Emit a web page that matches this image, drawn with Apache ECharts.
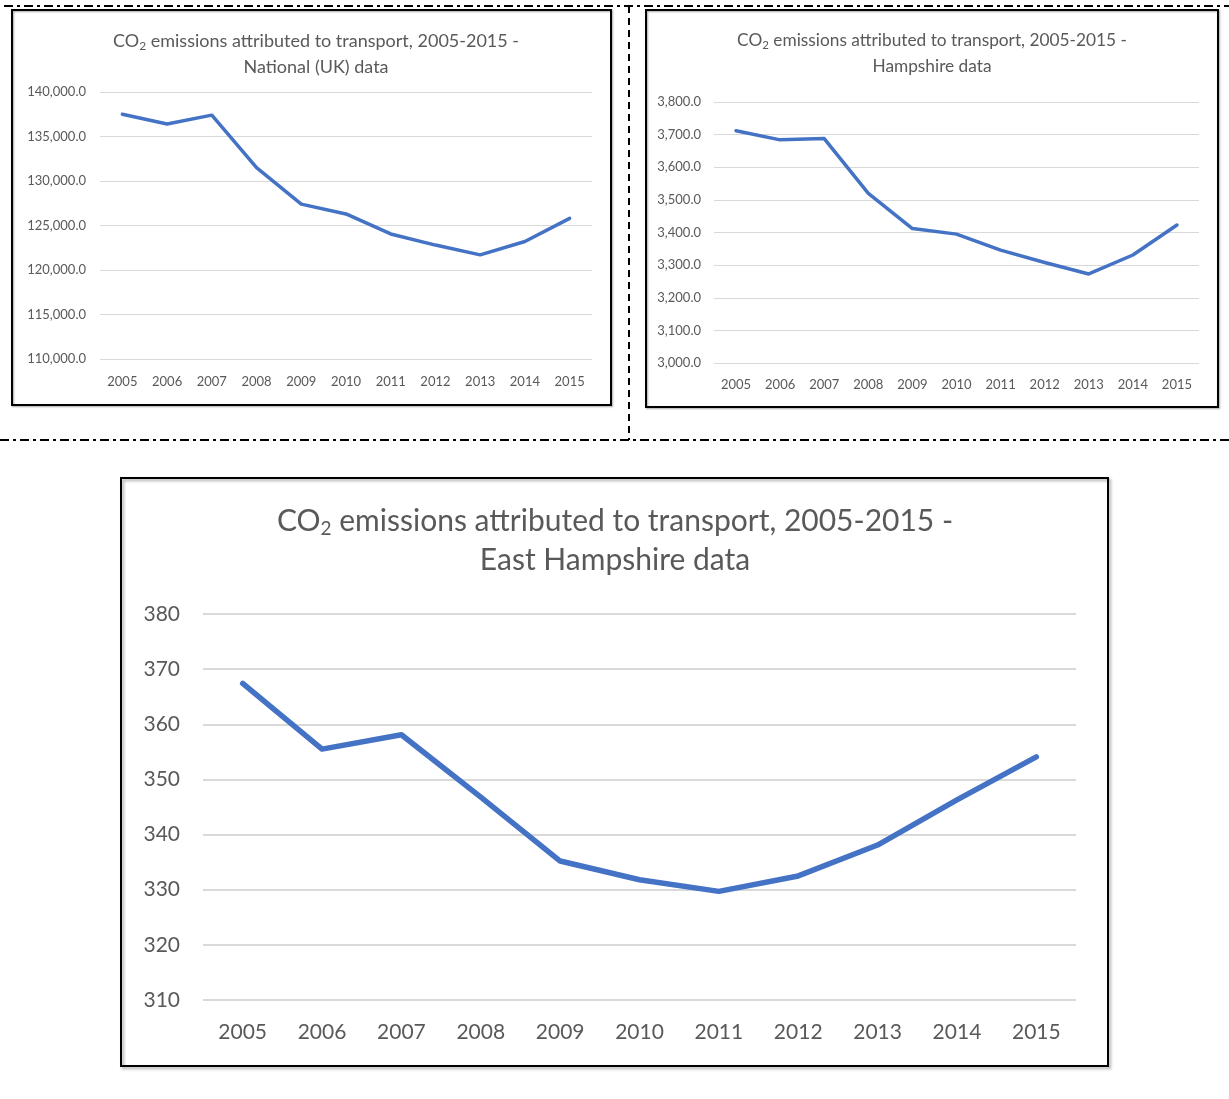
<!DOCTYPE html>
<html>
<head>
<meta charset="utf-8">
<script src="https://cdn.jsdelivr.net/npm/echarts@6/dist/echarts.min.js"></script>
<style>
  html, body { margin: 0; padding: 0; background: #fff; }
  #chart { width: 1229px; height: 1099px; }
</style>
</head>
<body>
<div id="chart"></div>
<script>
// ---- data ----
const years = ['2005', '2006', '2007', '2008', '2009', '2010', '2011', '2012', '2013', '2014', '2015'];
const ukValues = [137500, 136400, 137400, 131500, 127400, 126300, 124050, 122800, 121700, 123200, 125800];
const hampshireValues = [3712, 3684, 3688, 3520, 3412, 3395, 3346, 3308, 3273, 3331, 3423];
const eastHampshireValues = [367.4, 355.5, 358.1, 346.8, 335.2, 331.8, 329.7, 332.5, 338.1, 346.3, 354.1];

const titleLine1 = 'CO{sub|2} emissions attributed to transport, 2005-2015 -';
const titleUK = 'National (UK) data';
const titleHants = 'Hampshire data';
const titleEH = 'East Hampshire data';

// ---- styles ----
const FONT = 'Lato';
const GREY = '#595959';
const GRID = '#d9d9d9';
const BLUE = '#4472C4';

const fmt1 = v => v.toLocaleString('en-US', { minimumFractionDigits: 1, maximumFractionDigits: 1 });

function mkTitle(text, cx, top, size, lh, subSize, subPad) {
  return {
    text: text,
    left: cx, top: top, textAlign: 'center', padding: 0,
    textStyle: {
      fontFamily: FONT, fontWeight: 'normal', fontSize: size, color: GREY, lineHeight: lh,
      rich: { sub: { fontFamily: FONT, fontSize: subSize, color: GREY, padding: [subPad, 0, 0, 0] } }
    }
  };
}

function mkX(gridIndex, size, margin) {
  return {
    type: 'category', gridIndex: gridIndex, data: years, boundaryGap: true,
    axisLine: { show: false }, axisTick: { show: false },
    axisLabel: { fontFamily: FONT, fontSize: size, color: GREY, margin: margin }
  };
}
function mkY(gridIndex, min, max, interval, size, margin, fmt, gw) {
  return {
    type: 'value', gridIndex: gridIndex, min: min, max: max, interval: interval,
    axisLine: { show: false }, axisTick: { show: false },
    splitLine: { lineStyle: { color: GRID, width: gw } },
    axisLabel: { fontFamily: FONT, fontSize: size, color: GREY, margin: margin, formatter: fmt }
  };
}
function mkLine(idx, data, w) {
  return {
    type: 'line', xAxisIndex: idx, yAxisIndex: idx, data: data,
    symbol: 'none', smooth: false, lineStyle: { color: BLUE, width: w, cap: 'round', join: 'round' },
    itemStyle: { color: BLUE }
  };
}

const chart = echarts.init(document.getElementById('chart'), null, { renderer: 'canvas' });
chart.setOption({
  backgroundColor: '#fff',
  animation: false,
  title: [
    mkTitle(titleLine1 + '\n' + titleUK, 316, 28, 18, 26, 12, 10),
    mkTitle(titleLine1 + '\n' + titleHants, 932, 27, 17.3, 26, 11.5, 10),
    mkTitle(titleLine1 + '\n' + titleEH, 615, 502, 30, 39, 19, 14)
  ],
  grid: [
    { left: 100, right: 637, top: 92, bottom: 740 },
    { left: 714, right: 30, top: 102, bottom: 736 },
    { left: 203, right: 153, top: 614, bottom: 99 }
  ],
  xAxis: [mkX(0, 13, 16), mkX(1, 13, 15), mkX(2, 21, 22)],
  yAxis: [
    mkY(0, 110000, 140000, 5000, 13, 14, fmt1, 1),
    mkY(1, 3000, 3800, 100, 13, 13, fmt1, 1),
    mkY(2, 310, 380, 10, 21, 23, v => String(v), 2)
  ],
  series: [mkLine(0, ukValues, 3.5), mkLine(1, hampshireValues, 3.5), mkLine(2, eastHampshireValues, 5.5)],
  graphic: [
    { type: 'rect', shape: { x: 12, y: 10, width: 599, height: 395 }, style: { fill: null, stroke: '#000', lineWidth: 2, shadowBlur: 2, shadowOffsetX: 1, shadowOffsetY: 1, shadowColor: 'rgba(0,0,0,0.35)' } },
    { type: 'rect', shape: { x: 646, y: 10, width: 572, height: 397 }, style: { fill: null, stroke: '#000', lineWidth: 2, shadowBlur: 2, shadowOffsetX: 1, shadowOffsetY: 1, shadowColor: 'rgba(0,0,0,0.35)' } },
    { type: 'rect', shape: { x: 121, y: 478, width: 987, height: 588 }, style: { fill: null, stroke: '#000', lineWidth: 2, shadowBlur: 3, shadowOffsetX: 2, shadowOffsetY: 2, shadowColor: 'rgba(0,0,0,0.35)' } },
    { type: 'line', shape: { x1: 4, y1: 6, x2: 1229, y2: 6 }, style: { stroke: '#000', lineWidth: 2, lineDash: [9, 4, 3, 4] } },
    { type: 'line', shape: { x1: 0, y1: 440, x2: 1229, y2: 440 }, style: { stroke: '#000', lineWidth: 2, lineDash: [9, 4, 3, 4] } },
    { type: 'line', shape: { x1: 629, y1: 6, x2: 629, y2: 440 }, style: { stroke: '#000', lineWidth: 2, lineDash: [7, 5] } }
  ]
});
</script>
</body>
</html>
